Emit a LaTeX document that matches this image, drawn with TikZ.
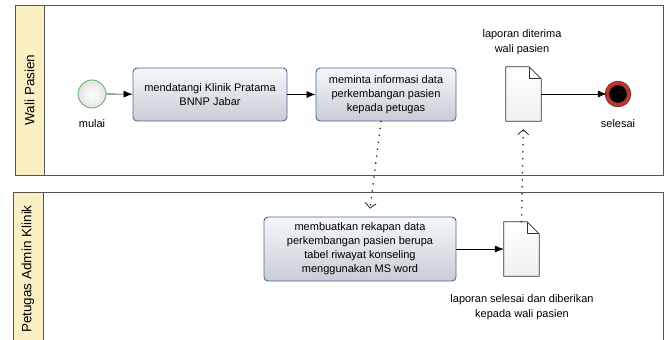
\documentclass[tikz,border=0pt]{standalone}
\usepackage{fontspec}
\setmainfont{Liberation Sans}
\definecolor{LaneYellow}{HTML}{FBF0C4}
\definecolor{PoolGray}{HTML}{555555}
\definecolor{TaskBorder}{HTML}{4A6792}
\definecolor{TaskTop}{HTML}{F5F7FA}
\definecolor{TaskBottom}{HTML}{C8CCD4}
\definecolor{StartGreen}{HTML}{62B862}
\definecolor{EndRed}{HTML}{C0342E}
\usetikzlibrary{arrows.meta, positioning}
\tikzset{
  pool/.style={draw=PoolGray, line width=1pt},
  lanehead/.style={draw=PoolGray, line width=1pt, fill=LaneYellow},
  lanetext/.style={rotate=90, font=\fontsize{13.5}{16}\selectfont},
  task/.style={draw=TaskBorder, line width=0.9pt, rounded corners=4pt, top color=TaskTop, bottom color=TaskBottom, align=center, inner sep=2pt, font=\fontsize{11}{14}\selectfont},
  flow/.style={-{Latex[length=9pt, width=7pt]}, line width=0.7pt},
  assoc/.style={-{Straight Barb[length=5pt, width=11pt, line width=0.8pt]}, line width=1.8pt, dash pattern=on 0pt off 7pt, line cap=round, shorten >=8pt, draw=black!85}
}

\begin{document}
\begin{tikzpicture}[x=1pt, y=-1pt,
  docshape/.style={draw=black!80, line width=0.7pt, top color=white, bottom color=gray!12},
  label/.style={align=center, font=\fontsize{11}{15}\selectfont, inner sep=1pt}
]
\useasboundingbox (0,0) rectangle (672,340);

\draw[pool] (15,5) rectangle (663,175);
\draw[lanehead] (15,5) rectangle (44,175);
\node[lanetext] (wali) at (29.5,90) {Wali Pasien};

\draw[pool] (13,192) rectangle (663,352);
\draw[lanehead] (13,192) rectangle (43,352);
\node[lanetext] (petugas) at (28,269) {Petugas Admin Klinik};

\node[circle, minimum size=28pt, draw=StartGreen, line width=0.9pt, inner color=white, outer color=gray!22] (mulai) at (92,94) {};
\node[label] (lblmulai) at (92,124) {mulai};

\node[task, minimum width=154pt, minimum height=53pt] (datang) at (210,94.5) {mendatangi Klinik Pratama\\BNNP Jabar};
\node[task, minimum width=140pt, minimum height=53pt] (minta) at (386,94.5) {meminta informasi data\\perkembangan pasien\\kepada petugas};

\node[minimum width=35pt, minimum height=54pt] (lapterima) at (523.5,94) {};
\node[label] (lbllapterima) at (522,42) {laporan diterima\\wali pasien};

\node[circle, minimum size=22pt, fill=black, draw=black!80, double=EndRed, double distance=3.6pt] (selesai) at (618,94) {};
\node[label] (lblselesai) at (618,124) {selesai};

\node[task, minimum width=192pt, minimum height=64pt] (rekap) at (360,249) {membuatkan rekapan data\\perkembangan pasien berupa\\tabel riwayat konseling\\menggunakan MS word};

\node[minimum width=35pt, minimum height=54pt] (lapselesai) at (521.5,249) {};
\node[label] (lbllapselesai) at (522,307) {laporan selesai dan diberikan\\kepada wali pasien};

\draw[docshape] (lapterima.south west) -- (lapterima.north west) -- ([xshift=-12pt]lapterima.north east) -- ([yshift=-12pt]lapterima.north east) -- (lapterima.south east) -- cycle;
\draw[draw=black!80, line width=0.7pt] ([xshift=-12pt]lapterima.north east) |- ([yshift=-12pt]lapterima.north east);
\draw[docshape] (lapselesai.south west) -- (lapselesai.north west) -- ([xshift=-12pt]lapselesai.north east) -- ([yshift=-12pt]lapselesai.north east) -- (lapselesai.south east) -- cycle;
\draw[draw=black!80, line width=0.7pt] ([xshift=-12pt]lapselesai.north east) |- ([yshift=-12pt]lapselesai.north east);

\draw[flow] (mulai) -- (datang);
\draw[flow] (datang) -- (minta);
\draw[flow] (lapterima) -- (selesai);
\draw[flow] (rekap) -- (lapselesai);

\draw[assoc] ([xshift=-5pt]minta.south) -- ([xshift=9pt]rekap.north);
\draw[assoc] (lapselesai.north) -- (lapterima.south);
\end{tikzpicture}
\end{document}
